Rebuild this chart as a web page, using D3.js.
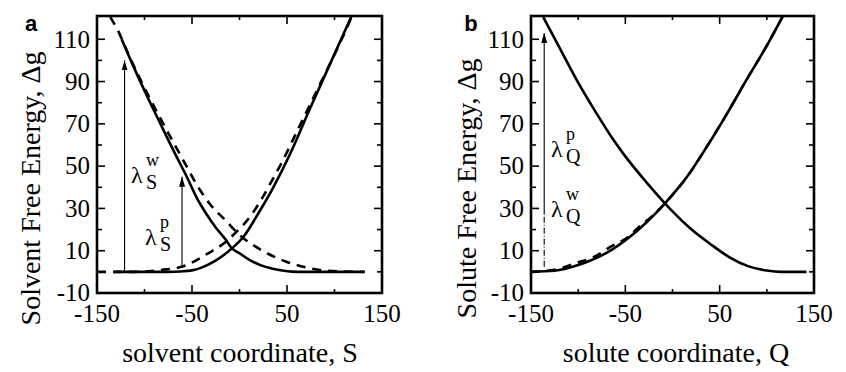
<!DOCTYPE html>
<html>
<head>
<meta charset="utf-8">
<script src="https://cdn.jsdelivr.net/npm/d3@7"></script>
<style>
  body { margin: 0; background: #fff; }
  text { font-family: "Liberation Serif", "Times New Roman", serif; fill: #000; }
</style>
</head>
<body>
<svg id="chart" width="846" height="372"></svg>
<script>
// axis values
const xDomain = [-150, 150];
const yDomain = [-10, 121];
const xTickLabels = [-150, -50, 50, 150];
const xMinorTicks = [-100, 0, 100];
const yTickLabels = [-10, 10, 30, 50, 70, 90, 110];
const yMinorTicks = [0, 20, 40, 60, 80, 100];

// panel a: solvent coordinate S
const solventLeftSolid = [[-124, 110], [-108, 93.5], [-94, 80], [-80, 67], [-68, 56], [-55, 44.5], [-45, 35],
  [-35, 27.5], [-25, 21], [-15, 15.5], [-8, 11.1], [0, 8.8], [10, 5.8], [22, 3.2], [35, 1.5], [45, 0.6],
  [55, 0.1], [70, 0], [132, 0]];
const solventLeftDashed = [[-136, 120.5], [-129, 115], [-115, 101], [-100, 87], [-85, 74], [-70, 61.5],
  [-57, 51], [-48, 43.5], [-31, 32], [-15, 24.5], [0, 17.5], [23, 10.3], [48, 5], [74, 1.7], [93, 0.5], [130, 0]];
const solventRightSolid = [[-132, 0], [-75, 0], [-62, 0.2], [-50, 0.7], [-40, 2], [-27, 4.8], [-8, 11.1],
  [4, 16.5], [21.6, 29], [35.6, 40], [53, 55.5], [74, 77], [95, 98], [118, 121]];
const solventRightDashed = [[-150, 0], [-110, 0], [-85, 0.8], [-60, 2.5], [-34, 8.5], [-15, 14], [-3, 19],
  [11, 26], [24, 35], [34, 43], [46, 53], [60, 66], [72, 77], [85, 89], [97, 100], [106, 108.5], [118, 120.5]];

// panel b: solute coordinate Q
const soluteLeftSolid = [[-137, 120.5], [-118, 104.5], [-100, 89.5], [-82, 76], [-65, 64], [-52, 55.8],
  [-26, 41.5], [-8, 32.4], [0, 28.6], [19, 20.5], [40, 13.2], [60, 7], [80, 2.7], [100, 0.6], [115, 0], [142, 0]];
const soluteRightSolid = [[-150, 0], [-125, 0.5], [-100, 3.2], [-65, 10.3], [-36.5, 19.8], [-8, 32.4],
  [15, 44.7], [36, 58.9], [57.5, 74.6], [78.7, 91], [100, 107], [117, 121]];
const soluteRightDashed = [[-150, 0], [-125, 1], [-100, 4.5], [-86, 6.5], [-65, 12], [-47, 16.5], [-36, 21],
  [-20, 27], [-8, 32.4], [15, 44.7], [36, 59], [57.5, 74.6], [78.7, 91], [100, 107], [117, 121]];

// energy-gap arrows: x, start, end (and the dashed/solid split for panel b)
const solventArrows = [[-121, 0, 100], [-60.5, 2.4, 45]];
const soluteArrowX = -136;
const soluteArrowY = [2.4, 27, 113];

const svg = d3.select('#chart');

// arrowhead
svg.append('defs').append('marker')
  .attr('id', 'head')
  .attr('viewBox', '0 0 10 6')
  .attr('refX', 10).attr('refY', 3)
  .attr('markerWidth', 10).attr('markerHeight', 6)
  .attr('markerUnits', 'userSpaceOnUse')
  .attr('orient', 'auto')
  .append('path').attr('d', 'M0,0 L10,3 L0,6 Z').attr('fill', '#000');

function drawPanel(opt) {
  const x = d3.scaleLinear().domain(xDomain).range([opt.left, opt.right]);
  const y = d3.scaleLinear().domain(yDomain).range([opt.bottom, opt.top]);
  const g = svg.append('g');

  g.append('clipPath').attr('id', 'clip' + opt.id)
    .append('rect')
    .attr('x', opt.left).attr('y', opt.top)
    .attr('width', opt.right - opt.left).attr('height', opt.bottom - opt.top);

  // ticks, pointing inward on all four sides
  const tk = g.append('g').attr('stroke', '#000').attr('stroke-width', 1.6);
  xTickLabels.concat(xMinorTicks).forEach(v => {
    const len = xTickLabels.includes(v) ? 8 : 4;
    tk.append('line').attr('x1', x(v)).attr('x2', x(v)).attr('y1', opt.bottom).attr('y2', opt.bottom - len);
    tk.append('line').attr('x1', x(v)).attr('x2', x(v)).attr('y1', opt.top).attr('y2', opt.top + len);
  });
  yTickLabels.concat(yMinorTicks).forEach(v => {
    const len = yTickLabels.includes(v) ? 8 : 5;
    tk.append('line').attr('y1', y(v)).attr('y2', y(v)).attr('x1', opt.left).attr('x2', opt.left + len);
    tk.append('line').attr('y1', y(v)).attr('y2', y(v)).attr('x1', opt.right).attr('x2', opt.right - len);
  });

  // tick labels
  g.selectAll('.xl').data(xTickLabels).join('text')
    .attr('x', d => x(d)).attr('y', opt.bottom + 29)
    .attr('text-anchor', 'middle').style('font-size', '25px')
    .text(d => d);
  g.selectAll('.yl').data(yTickLabels).join('text')
    .attr('x', opt.left - 7).attr('y', d => y(d)).attr('dy', '0.33em')
    .attr('text-anchor', 'end').style('font-size', '25px')
    .text(d => d);

  // curves
  const line = d3.line().x(d => x(d[0])).y(d => y(d[1])).curve(d3.curveMonotoneX);
  const cg = g.append('g').attr('clip-path', `url(#clip${opt.id})`);
  opt.dashed.forEach(s => {
    cg.append('path').attr('d', line(s)).attr('fill', 'none')
      .attr('stroke', '#000').attr('stroke-width', 2.6).attr('stroke-dasharray', '9,7');
  });
  opt.solid.forEach(s => {
    cg.append('path').attr('d', line(s)).attr('fill', 'none')
      .attr('stroke', '#000').attr('stroke-width', 2.6);
  });

  // frame
  g.append('rect')
    .attr('x', opt.left).attr('y', opt.top)
    .attr('width', opt.right - opt.left).attr('height', opt.bottom - opt.top)
    .attr('fill', 'none').attr('stroke', '#000').attr('stroke-width', 2.6);

  // axis titles
  g.append('text')
    .attr('transform', `translate(${opt.yTitleX},${(opt.top + opt.bottom) / 2 + 34}) rotate(-90)`)
    .attr('text-anchor', 'middle').attr('dy', '0.35em').style('font-size', '28px')
    .text(opt.yTitle);
  g.append('text')
    .attr('x', opt.xTitleX).attr('y', 362)
    .attr('text-anchor', 'middle').style('font-size', '28px')
    .text(opt.xTitle);

  // panel letter
  g.append('text')
    .attr('x', opt.letterX).attr('y', 31)
    .attr('text-anchor', 'middle')
    .style('font-family', '"Liberation Sans", Arial, sans-serif')
    .style('font-weight', 'bold').style('font-size', '22px')
    .text(opt.letter);

  return { x, y, g };
}

// λ with a superscript and a subscript stacked after it
function lambdaLabel(g, px, py, sup, sub) {
  g.append('text').attr('x', px).attr('y', py).style('font-size', '24px').text('λ');
  g.append('text').attr('x', px + 15).attr('y', py - 17).style('font-size', '18px').text(sup);
  g.append('text').attr('x', px + 15).attr('y', py + 6).style('font-size', '20px').text(sub);
}

// panel a
const pa = drawPanel({
  id: 'a', left: 97, right: 382, top: 16, bottom: 293,
  solid: [solventLeftSolid, solventRightSolid],
  dashed: [solventLeftDashed, solventRightDashed],
  yTitle: 'Solvent Free Energy, Δg', yTitleX: 30,
  xTitle: 'solvent coordinate, S', xTitleX: 240,
  letter: 'a', letterX: 31
});
solventArrows.forEach(a => {
  pa.g.append('line')
    .attr('x1', pa.x(a[0])).attr('x2', pa.x(a[0]))
    .attr('y1', pa.y(a[1])).attr('y2', pa.y(a[2]))
    .attr('stroke', '#000').attr('stroke-width', 1.1)
    .attr('marker-end', 'url(#head)');
});
lambdaLabel(pa.g, 131, 183, 'w', 'S');
lambdaLabel(pa.g, 145, 245, 'p', 'S');

// panel b
const pb = drawPanel({
  id: 'b', left: 531, right: 814, top: 16, bottom: 293,
  solid: [soluteLeftSolid, soluteRightSolid],
  dashed: [soluteRightDashed],
  yTitle: 'Solute Free Energy, Δg', yTitleX: 466,
  xTitle: 'solute coordinate, Q', xTitleX: 676,
  letter: 'b', letterX: 471
});
pb.g.append('line')
  .attr('x1', pb.x(soluteArrowX)).attr('x2', pb.x(soluteArrowX))
  .attr('y1', pb.y(soluteArrowY[0])).attr('y2', pb.y(soluteArrowY[1]))
  .attr('stroke', '#000').attr('stroke-width', 1.1).attr('stroke-dasharray', '6,2,1,2');
pb.g.append('line')
  .attr('x1', pb.x(soluteArrowX)).attr('x2', pb.x(soluteArrowX))
  .attr('y1', pb.y(soluteArrowY[1])).attr('y2', pb.y(soluteArrowY[2]))
  .attr('stroke', '#000').attr('stroke-width', 1.1)
  .attr('marker-end', 'url(#head)');
lambdaLabel(pb.g, 551, 157, 'p', 'Q');
lambdaLabel(pb.g, 551, 217, 'w', 'Q');
</script>
</body>
</html>
